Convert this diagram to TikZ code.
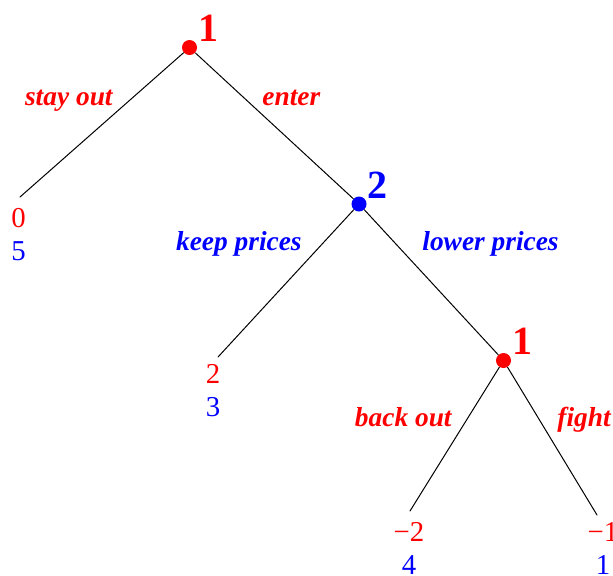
\documentclass[tikz,border=0pt]{standalone}
\usepackage{fontspec}
\setmainfont{Liberation Serif}
\usetikzlibrary{positioning}

\begin{document}
\begin{tikzpicture}[
    x=0.5pt, y=-0.5pt, line cap=round, line join=round,
    branch/.style={line width=0.5pt, black},
    decision/.style={circle, fill=#1, inner sep=0pt, minimum size=7.5pt},
    player/.style={font=\fontsize{20}{24}\selectfont\bfseries, inner sep=0pt, anchor=south west},
    move/.style={font=\fontsize{13.7}{16}\selectfont\bfseries\itshape, inner sep=0pt},
    payoff/.style={font=\fontsize{14.4}{16.5}\selectfont, align=center, inner sep=0pt, anchor=north},
  ]
  \useasboundingbox (0,0) rectangle (613,575);

  % --- decision nodes ---
  \node[decision=red]  (n1) at (189.5,47.5) {};
  \node[decision=blue] (n2) at (359,204) {};
  \node[decision=red]  (n3) at (503.5,360.5) {};
  \foreach \n/\who/\col in {n1/1/red, n2/2/blue, n3/1/red}{
    \node[player, text=\col] (\n-who) at ([xshift=1.5pt]\n.north east) {\who};
  }

  % --- terminal points ---
  \coordinate (t1) at (20,197);
  \coordinate (t2) at (218,357);
  \coordinate (t3) at (410,511);
  \coordinate (t4) at (597,515);

  % --- branches ---
  \draw[branch] (n1) -- (t1);
  \draw[branch] (n1) -- (n2);
  \draw[branch] (n2) -- (t2);
  \draw[branch] (n2) -- (n3);
  \draw[branch] (n3) -- (t3);
  \draw[branch] (n3) -- (t4);

  % --- moves ---
  \node[move, text=red,  anchor=base east] (stay)  at (113,105) {stay out};
  \node[move, text=red,  anchor=base west] (enter) at (262,105) {enter};
  \node[move, text=blue, anchor=base east] (keep)  at (302,250) {keep prices};
  \node[move, text=blue, anchor=base west] (lower) at (422,250) {lower prices};
  \node[move, text=red,  anchor=base east] (back)  at (452,426) {back out};
  \node[move, text=red,  anchor=base west] (fight) at (557,426) {fight};

  % --- payoffs (player 1 over player 2) ---
  \foreach \t/\a/\b/\dx/\dy in {t1/0/5/-1.5/11, t2/2/3/-5/7, t3/−2/4/-1/11, t4/−1/1/6/7}{
    \node[payoff] (\t-pay) at ([shift={(\dx,\dy)}]\t)
      {\textcolor{red}{\a}\\\textcolor{blue}{\b}};
  }
\end{tikzpicture}
\end{document}
